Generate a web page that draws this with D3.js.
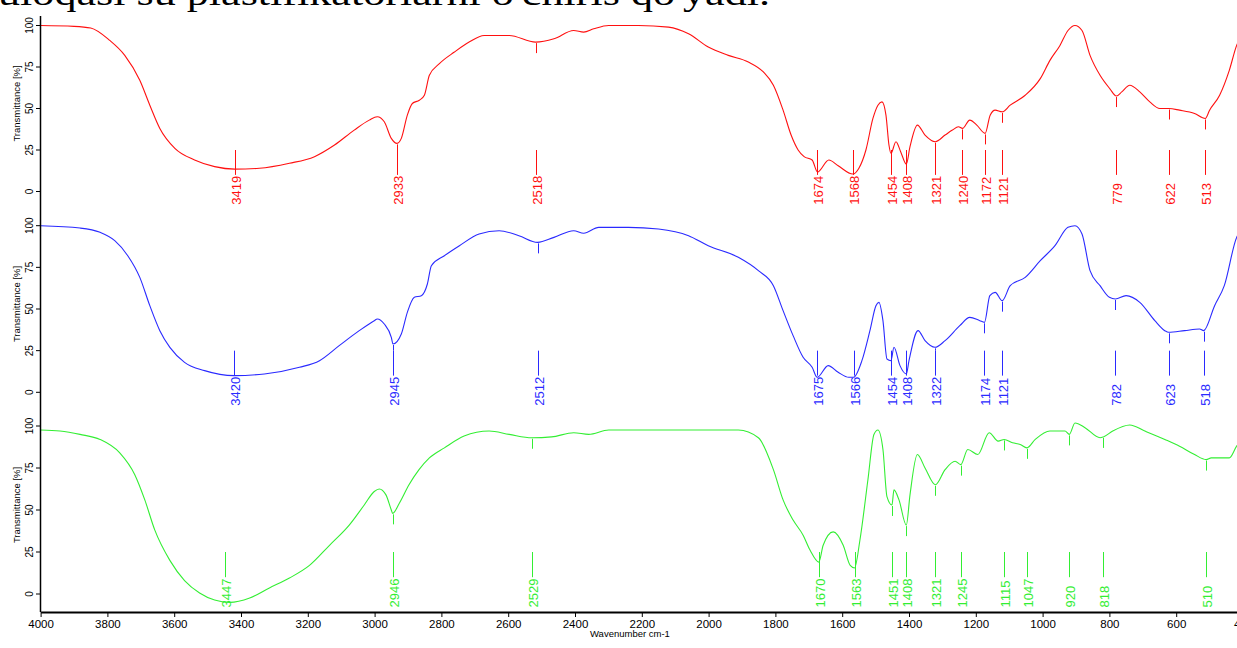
<!DOCTYPE html>
<html>
<head>
<meta charset="utf-8">
<script src="https://cdnjs.cloudflare.com/ajax/libs/d3/7.8.5/d3.min.js"></script>
<style>
body { margin: 0; background: #fff; }
svg { display: block; font-family: "Liberation Sans", Arial, sans-serif; }
</style>
</head>
<body>
<div id="chart"></div>
<script>
// spectra: [wavenumber, transmittance %]
var redSpectrum = [
	[4000,100],[3900,99.5],[3850,98.5],[3793,91],[3748,82],[3703,67],[3673,52],[3643,38],[3598,26],[3539,19],
	[3479,15],[3419,13.5],[3345,14],[3255,17],[3180,21],[3120,28],[3061,37],[3016,43],[2992,45],[2971,42],
	[2950,32],[2933,29],[2920,32],[2902,46],[2887,53],[2866,55],[2851,58],[2836,70],[2806,77],[2761,84],
	[2717,90],[2672,94],[2597,94],[2518,90],[2463,92],[2404,97],[2374,96],[2344,98],[2299,100],[2210,100],
	[2120,99],[2060,95],[2001,87],[1941,82],[1881,78],[1836,72],[1806,64],[1777,49],[1753,34],[1732,25],
	[1714,21],[1690,19],[1674,11.7],[1640,19],[1612,15.5],[1568,10.5],[1550,14],[1529,25],[1508,44],[1493,52],
	[1481,54],[1469,46],[1460,28],[1454,23],[1439,30],[1425,24],[1408,16.5],[1397,27],[1375,40],[1352,34],
	[1321,30],[1292,34],[1270,37],[1252,39],[1240,38],[1218,43],[1197,40],[1172,35],[1157,46],[1142,49],
	[1121,48],[1097,52],[1052,58],[1007,68],[978,79],[948,88],[924,97],[903,100],[882,97],[858,82],
	[828,70],[799,62],[779,57.5],[763,60],[739,64],[709,60],[679,54],[649,50],[622,50],[590,49],
	[545,47],[513,44],[500,49],[470,58],[441,73],[419,88],[400,95]
];
var blueSpectrum = [
	[4000,100],[3882,98.6],[3822,96],[3778,91],[3739,82],[3703,69],[3673,52],[3643,37],[3613,27],[3569,18],
	[3509,13],[3420,10],[3330,11],[3225,15],[3165,19],[3106,28],[3046,37],[3001,43],[2992,44],[2971,41],
	[2950,33],[2945,29],[2920,35],[2902,48],[2881,57],[2860,58],[2842,65],[2830,76],[2791,82],[2746,88],
	[2687,95],[2627,97],[2568,94],[2512,90],[2463,93],[2404,97],[2374,95.5],[2329,99],[2240,99],[2150,98],
	[2060,94],[2001,88],[1911,81],[1851,73],[1806,64],[1777,49],[1747,34],[1717,21],[1690,15],[1675,9],
	[1642,16],[1612,12],[1580,9],[1566,9],[1541,19],[1517,37],[1499,52],[1490,54],[1478,43],[1466,20],
	[1454,19],[1445,27],[1427,16],[1408,11],[1400,19],[1373,37],[1352,31],[1322,27],[1292,31],[1248,40],
	[1218,45],[1188,43],[1174,42],[1158,58],[1142,60],[1121,55],[1097,64],[1052,69],[1007,79],[963,88],
	[924,99],[903,100],[882,95],[858,73],[828,64],[800,57],[782,56],[750,58],[709,54],[664,43],
	[634,37],[623,36],[575,37],[530,38],[518,37],[485,52],[456,64],[419,93],[400,98]
];
var greenSpectrum = [
	[4000,97.6],[3942,97],[3882,95],[3822,92],[3763,84],[3718,71],[3688,56],[3658,38],[3613,20],[3569,8],
	[3524,0.6],[3479,-3.6],[3434,-5],[3374,-2.4],[3315,3.6],[3255,9.5],[3195,17],[3135,29],[3076,41],[3031,53],
	[3001,61],[2986,62.5],[2966,59],[2950,50],[2946,48],[2926,54],[2897,65],[2867,74],[2836,81],[2791,87],
	[2732,94],[2657,97],[2597,95],[2529,93],[2470,93.5],[2404,96],[2359,95],[2299,97.6],[2030,97.6],[1911,97.6],
	[1851,93],[1806,74],[1777,56],[1747,44],[1717,35],[1696,26],[1670,19],[1657,29],[1627,37],[1597,29],
	[1576,17],[1563,15.5],[1547,32],[1523,68],[1505,95],[1493,97.6],[1478,86],[1466,58],[1451,53],[1445,62],
	[1430,56],[1408,41],[1397,59],[1375,83],[1352,75],[1321,65],[1292,74],[1262,79],[1245,77],[1224,86],
	[1194,83],[1160,96],[1133,91],[1115,92],[1090,90],[1067,89],[1047,87],[1022,92],[978,97],[933,97],
	[920,95],[903,101.8],[873,99],[828,93],[818,93.5],[790,97],[739,100.6],[694,97],[634,92],[590,88],
	[545,83],[510,80],[495,81],[441,81],[419,88],[400,92]
];

var redPeaks = [3419, 2933, 2518, 1674, 1568, 1454, 1408, 1321, 1240, 1172, 1121, 779, 622, 513];
var bluePeaks = [3420, 2945, 2512, 1675, 1566, 1454, 1408, 1322, 1174, 1121, 782, 623, 518];
var greenPeaks = [3447, 2946, 2529, 1670, 1563, 1451, 1408, 1321, 1245, 1115, 1047, 920, 818, 510];

var xTicks = [4000, 3800, 3600, 3400, 3200, 3000, 2800, 2600, 2400, 2200, 2000, 1800, 1600, 1400, 1200, 1000, 800, 600, 400];
var yTicks = [0, 25, 50, 75, 100];
var yTitle = "Transmittance [%]";
var xTitle = "Wavenumber cm-1";
var headerText = "uloqasi su plastifikatorlarni o'chiris qo'yadi.";

var width = 1237, height = 648;
var axisX = 40, axisBottom = 612;

var panels = [
	{ data: redSpectrum, peaks: redPeaks, color: "#ff1010", top: 25.5, zero: 191.5 },
	{ data: blueSpectrum, peaks: bluePeaks, color: "#2a2aff", top: 225.7, zero: 392.3 },
	{ data: greenSpectrum, peaks: greenPeaks, color: "#33ee33", top: 426, zero: 594 }
];

var svg = d3.select("#chart").append("svg")
	.attr("width", width)
	.attr("height", height);

svg.append("rect").attr("width", width).attr("height", height).attr("fill", "#fff");

// cropped line of document text above the chart
svg.append("text")
	.attr("x", -2)
	.attr("y", 5)
	.attr("font-family", "'Liberation Serif', 'Times New Roman', serif")
	.attr("font-size", 34)
	.attr("textLength", 772)
	.attr("lengthAdjust", "spacingAndGlyphs")
	.attr("fill", "#000")
	.text(headerText);

var x = d3.scaleLinear().domain([4000, 400]).range([40.6, 1243]);

function valueAt(data, w) {
	for (var i = 0; i < data.length - 1; i++) {
		var a = data[i], b = data[i + 1];
		if (w <= a[0] && w >= b[0]) {
			return a[1] + (b[1] - a[1]) * (a[0] - w) / (a[0] - b[0]);
		}
	}
	return data[data.length - 1][1];
}

panels.forEach(function(p) {
	var y = d3.scaleLinear().domain([0, 100]).range([p.zero, p.top]);
	var g = svg.append("g");

	// y axis ticks + labels
	g.selectAll(".ytick").data(yTicks).enter().append("line")
		.attr("x1", axisX - 4).attr("x2", axisX)
		.attr("y1", function(d) { return y(d); })
		.attr("y2", function(d) { return y(d); })
		.attr("stroke", "#000");
	g.selectAll(".ylab").data(yTicks).enter().append("text")
		.attr("transform", function(d) { return "translate(" + (axisX - 7) + "," + y(d) + ") rotate(-90)"; })
		.attr("text-anchor", "middle")
		.attr("font-size", 10)
		.attr("fill", "#000")
		.text(function(d) { return d; });
	g.append("text")
		.attr("transform", "translate(20," + (y(50) - 5) + ") rotate(-90)")
		.attr("text-anchor", "middle")
		.attr("font-size", 9.5)
		.attr("fill", "#000")
		.text(yTitle);

	// spectrum
	var line = d3.line()
		.x(function(d) { return x(d[0]); })
		.y(function(d) { return y(d[1]); })
		.curve(d3.curveMonotoneX);
	g.append("path")
		.datum(p.data)
		.attr("d", line)
		.attr("fill", "none")
		.attr("stroke", p.color)
		.attr("stroke-width", 1.1);

	// peak picks
	var lineTop = y(25), lineBot = y(10), labelBase = y(-8);
	p.peaks.forEach(function(w) {
		var px = Math.round(x(w)) + 0.5;
		var cy = y(valueAt(p.data, w));
		if (cy < lineTop) {
			g.append("line")
				.attr("x1", px).attr("x2", px)
				.attr("y1", cy + 1).attr("y2", Math.min(cy + 11, lineTop))
				.attr("stroke", p.color);
		}
		g.append("line")
			.attr("x1", px).attr("x2", px)
			.attr("y1", lineTop).attr("y2", lineBot)
			.attr("stroke", p.color);
		g.append("text")
			.attr("transform", "translate(" + (px + 5) + "," + labelBase + ") rotate(-90)")
			.attr("font-size", 13)
			.attr("fill", p.color)
			.text(w);
	});
});

// left axis line
svg.append("line")
	.attr("x1", axisX + 0.5).attr("x2", axisX + 0.5)
	.attr("y1", 16).attr("y2", axisBottom)
	.attr("stroke", "#000").attr("stroke-width", 1.5);

// x axis
var xAxis = svg.append("g")
	.attr("transform", "translate(0," + axisBottom + ")")
	.call(d3.axisBottom(x).tickValues(xTicks).tickFormat(d3.format("d")).tickSize(5).tickSizeOuter(0).tickPadding(3));
xAxis.select(".domain").attr("stroke-width", 2);
xAxis.selectAll("text").attr("font-size", 11.5).attr("font-family", "'Liberation Sans', Arial, sans-serif").attr("fill", "#000");

svg.append("text")
	.attr("x", 590)
	.attr("y", 637)
	.attr("font-size", 9.5)
	.attr("fill", "#000")
	.text(xTitle);
</script>
</body>
</html>
